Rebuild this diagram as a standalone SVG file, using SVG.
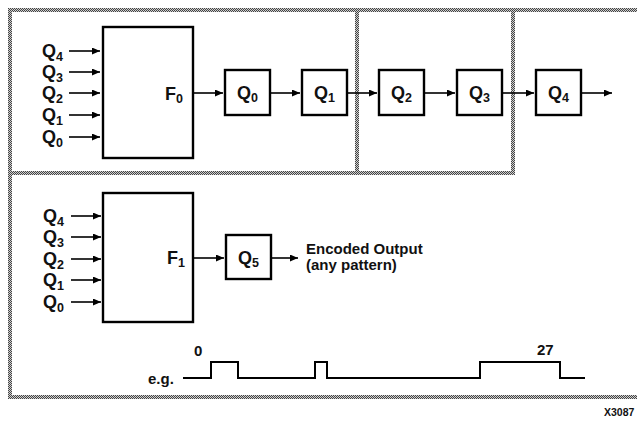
<svg xmlns="http://www.w3.org/2000/svg" width="637" height="421" viewBox="0 0 637 421">
<defs>
<pattern id="dots" patternUnits="userSpaceOnUse" width="2" height="2">
<rect width="2" height="2" fill="#d0d0d0"/>
<rect x="0" y="0" width="1" height="1" fill="#444"/>
<rect x="1" y="1" width="1" height="1" fill="#444"/>
</pattern>
<marker id="ah" markerUnits="userSpaceOnUse" markerWidth="8" markerHeight="7" refX="8" refY="3.5" orient="auto">
<path d="M0,0 L8,3.5 L0,7 z" fill="#000"/>
</marker>
<style>
.t{font-family:"Liberation Sans",Arial,sans-serif;font-size:18px;font-weight:bold;fill:#111}
.s{font-size:12.5px}
.m{font-size:15px}
.box{fill:#fff;stroke:#000;stroke-width:2.4}
.ar{stroke:#000;stroke-width:1.6;fill:none;marker-end:url(#ah)}
.dot{fill:url(#dots)}
.w{stroke:#000;stroke-width:2;fill:none}
</style>
</defs>
<rect width="637" height="421" fill="#fff"/>
<g id="frames">
<rect class="dot" x="8" y="8" width="629" height="4"/>
<rect class="dot" x="8" y="8" width="4" height="391"/>
<rect class="dot" x="8" y="395" width="629" height="4"/>
<rect class="dot" x="8" y="171" width="507" height="4"/>
<rect class="dot" x="355" y="8" width="4" height="167"/>
<rect class="dot" x="511" y="8" width="4" height="167"/>
</g>
<g id="connectors">
<line class="ar" x1="69" y1="51" x2="100" y2="51"/>
<line class="ar" x1="69" y1="72" x2="100" y2="72"/>
<line class="ar" x1="69" y1="93" x2="100" y2="93"/>
<line class="ar" x1="69" y1="115" x2="100" y2="115"/>
<line class="ar" x1="69" y1="137" x2="100" y2="137"/>
<line class="ar" x1="194" y1="93" x2="223" y2="93"/>
<line class="ar" x1="271" y1="93" x2="300" y2="93"/>
<line class="ar" x1="348" y1="93" x2="377" y2="93"/>
<line class="ar" x1="425" y1="93" x2="455" y2="93"/>
<line class="ar" x1="503" y1="93" x2="534" y2="93"/>
<line class="ar" x1="582" y1="93" x2="612" y2="93"/>
<line class="ar" x1="71" y1="216" x2="101" y2="216"/>
<line class="ar" x1="71" y1="237" x2="101" y2="237"/>
<line class="ar" x1="71" y1="259" x2="101" y2="259"/>
<line class="ar" x1="71" y1="280" x2="101" y2="280"/>
<line class="ar" x1="71" y1="302" x2="101" y2="302"/>
<line class="ar" x1="194" y1="258" x2="224" y2="258"/>
<line class="ar" x1="272" y1="258" x2="298" y2="258"/>
</g>
<g id="inputs-top">
<text class="t" x="42" y="57">Q<tspan class="s" dy="4">4</tspan></text>
<text class="t" x="42" y="78">Q<tspan class="s" dy="4">3</tspan></text>
<text class="t" x="42" y="99">Q<tspan class="s" dy="4">2</tspan></text>
<text class="t" x="42" y="121">Q<tspan class="s" dy="4">1</tspan></text>
<text class="t" x="42" y="143">Q<tspan class="s" dy="4">0</tspan></text>
</g>
<g id="F0">
<rect class="box" x="103" y="27" width="90" height="131"/>
<text class="t" x="165" y="100">F<tspan class="s" dy="3">0</tspan></text>
</g>
<g id="Q0"><rect class="box" x="225" y="70" width="45" height="45"/><text class="t" x="247.5" y="99" text-anchor="middle">Q<tspan class="s" dy="3">0</tspan></text></g>
<g id="Q1"><rect class="box" x="302" y="70" width="45" height="45"/><text class="t" x="324.5" y="99" text-anchor="middle">Q<tspan class="s" dy="3">1</tspan></text></g>
<g id="Q2"><rect class="box" x="379" y="70" width="45" height="45"/><text class="t" x="401.5" y="99" text-anchor="middle">Q<tspan class="s" dy="3">2</tspan></text></g>
<g id="Q3"><rect class="box" x="457" y="70" width="45" height="45"/><text class="t" x="479.5" y="99" text-anchor="middle">Q<tspan class="s" dy="3">3</tspan></text></g>
<g id="Q4"><rect class="box" x="536" y="70" width="45" height="45"/><text class="t" x="558.5" y="99" text-anchor="middle">Q<tspan class="s" dy="3">4</tspan></text></g>
<g id="inputs-bottom">
<text class="t" x="43" y="222">Q<tspan class="s" dy="4">4</tspan></text>
<text class="t" x="43" y="243">Q<tspan class="s" dy="4">3</tspan></text>
<text class="t" x="43" y="265">Q<tspan class="s" dy="4">2</tspan></text>
<text class="t" x="43" y="286">Q<tspan class="s" dy="4">1</tspan></text>
<text class="t" x="43" y="308">Q<tspan class="s" dy="4">0</tspan></text>
</g>
<g id="F1">
<rect class="box" x="103" y="193" width="90" height="129"/>
<text class="t" x="167" y="264">F<tspan class="s" dy="3">1</tspan></text>
</g>
<g id="Q5"><rect class="box" x="226" y="235" width="45" height="44"/><text class="t" x="248.5" y="264" text-anchor="middle">Q<tspan class="s" dy="3">5</tspan></text></g>
<g id="output">
<text class="t m" x="306" y="254">Encoded Output</text>
<text class="t m" x="306" y="270">(any pattern)</text>
</g>
<g id="waveform">
<text class="t m" x="148" y="384">e.g.</text>
<text class="t m" x="194" y="356">0</text>
<text class="t m" x="537" y="355">27</text>
<path class="w" d="M183,378 H211 V362 H238 V378 H315 V362 H327 V378 H480 V362 H560 V378 H585"/>
</g>
<text class="t" x="604" y="416" style="font-size:10.5px">X3087</text>
</svg>
